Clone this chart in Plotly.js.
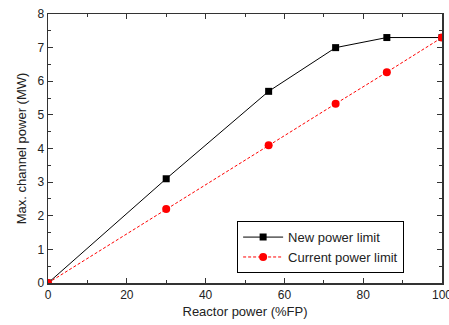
<!DOCTYPE html>
<html><head><meta charset="utf-8">
<script src="https://cdn.plot.ly/plotly-3.0.1.min.js"></script>
<style>html,body{margin:0;padding:0;background:#fff}#c{width:449px;height:325px}</style>
</head><body><div id="c"></div>
<script>
const reactorPower = [0, 30, 56, 73, 86, 100];
const newLimit = [0, 3.1, 5.7, 7.0, 7.3, 7.3];
const currentLimit = [0, 2.2, 4.1, 5.33, 6.27, 7.3];

const traces = [
  {x: reactorPower, y: newLimit, name: 'New power limit', mode: 'lines+markers',
   line: {color: '#000', width: 1}, marker: {symbol: 'square', size: 7, color: '#000'}},
  {x: reactorPower, y: currentLimit, name: 'Current power limit', mode: 'lines+markers',
   line: {color: '#ff0000', width: 1, dash: '3px,2px'}, marker: {symbol: 'circle', size: 8, color: '#ff0000'}}
];
const axisCommon = {showline: true, linecolor: '#333', linewidth: 1.5, mirror: 'ticks', ticks: 'inside',
  ticklen: 5, tickcolor: '#333', showgrid: false, zeroline: false, ticklabeloverflow: 'allow',
  tickfont: {family: 'Liberation Sans, Arial, sans-serif', size: 12, color: '#222'}};
const layout = {
  width: 449, height: 325, margin: {l: 48, r: 7, t: 14, b: 42},
  paper_bgcolor: '#fff', plot_bgcolor: '#fff',
  font: {family: 'Liberation Sans, Arial, sans-serif', color: '#222'},
  xaxis: Object.assign({}, axisCommon, {range: [0, 100], dtick: 20,
    minor: {ticks: 'inside', dtick: 10, ticklen: 3, tickcolor: '#333'},
    title: {text: 'Reactor power (%FP)', font: {size: 13}, standoff: 6}}),
  yaxis: Object.assign({}, axisCommon, {range: [0, 8], dtick: 1,
    minor: {ticks: 'inside', dtick: 0.5, ticklen: 3, tickcolor: '#333'},
    title: {text: 'Max. channel power (MW)', font: {size: 13}, standoff: 8}}),
  legend: {x: 0.48, y: 0.23, xanchor: 'left', yanchor: 'top', bordercolor: '#000', borderwidth: 1,
    bgcolor: '#fff', font: {size: 13}, tracegroupgap: 0, itemwidth: 40},
  showlegend: true
};
Plotly.newPlot('c', traces, layout, {staticPlot: true});
</script></body></html>
